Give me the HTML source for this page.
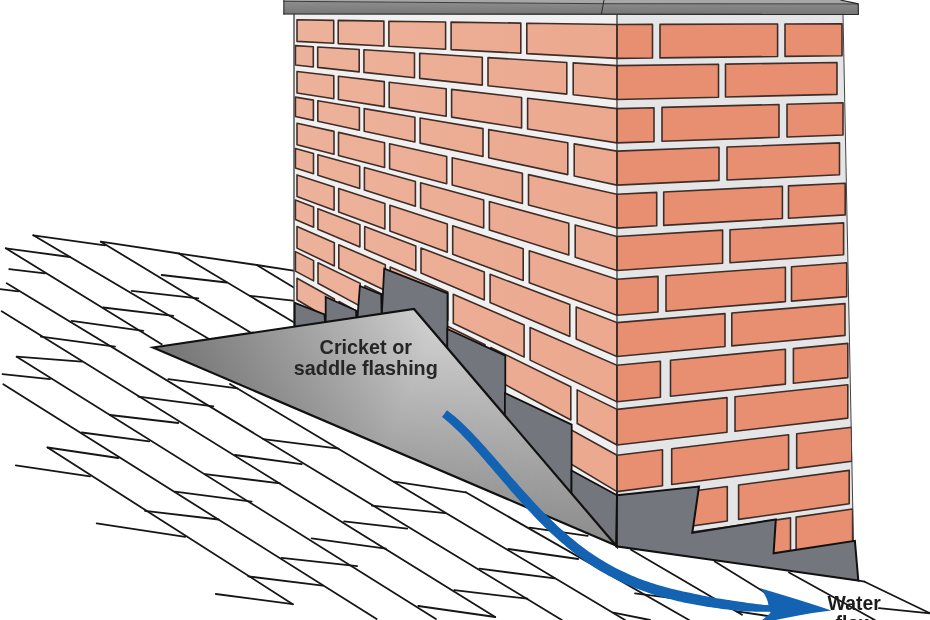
<!DOCTYPE html>
<html><head><meta charset="utf-8"><style>
html,body{margin:0;padding:0;background:#fff;width:930px;height:620px;overflow:hidden;font-family:"Liberation Sans",sans-serif}
svg{display:block}
text{-webkit-font-smoothing:antialiased}
</style></head><body>
<svg width="930" height="620" viewBox="0 0 930 620">
<defs>
<linearGradient id="crk" gradientUnits="userSpaceOnUse" x1="359.7" y1="435.9" x2="414" y2="309">
<stop offset="0" stop-color="#a4a4a4"/><stop offset="1" stop-color="#d2d2d2"/>
</linearGradient>
<linearGradient id="crk2" gradientUnits="userSpaceOnUse" x1="153" y1="347.5" x2="616" y2="545.5">
<stop offset="0" stop-color="#000" stop-opacity="0.3"/><stop offset="0.5" stop-color="#000" stop-opacity="0"/><stop offset="1" stop-color="#000" stop-opacity="0.15"/>
</linearGradient>
<linearGradient id="cap" x1="0" y1="0" x2="0" y2="1">
<stop offset="0" stop-color="#8e8e8f"/><stop offset="1" stop-color="#767677"/>
</linearGradient>
<linearGradient id="lb" gradientUnits="userSpaceOnUse" x1="294" y1="0" x2="617" y2="0">
<stop offset="0" stop-color="#edb29b"/><stop offset="1" stop-color="#eba88e"/>
</linearGradient>
<filter id="soft" x="0" y="0" width="100%" height="100%" color-interpolation-filters="sRGB"><feGaussianBlur stdDeviation="0.35"/></filter>
<clipPath id="lfclip"><polygon points="294,14 617,14 617,546 414,309 294,327"/></clipPath>
<clipPath id="rfclip"><polygon points="617,14 843,14 853.9,541.5 857.9,579.8 616.1,546.3"/></clipPath>
</defs>
<rect width="930" height="620" fill="#fff"/>
<g filter="url(#soft)">
<g id="shingles" stroke="#161616" stroke-width="1.8" fill="none" stroke-linecap="round">
<line x1="33.3" y1="235.3" x2="209" y2="339"/>
<line x1="100.8" y1="241.7" x2="253" y2="334"/>
<line x1="179.2" y1="253.7" x2="295" y2="323"/>
<line x1="256.7" y1="265" x2="295" y2="288.3"/>
<line x1="5.8" y1="248.3" x2="161.7" y2="344.2"/>
<line x1="6.7" y1="283.3" x2="561.8" y2="620"/>
<line x1="1.7" y1="311.3" x2="495.2" y2="617"/>
<line x1="3.3" y1="384.2" x2="376.6" y2="619"/>
<line x1="16.7" y1="356.7" x2="435.9" y2="619"/>
<line x1="47.5" y1="447.5" x2="292.8" y2="604.2"/>
<line x1="230" y1="384" x2="625" y2="620"/>
<line x1="465.8" y1="492.3" x2="689" y2="620"/>
<line x1="631" y1="549.7" x2="742" y2="614.7"/>
<line x1="714.8" y1="561.5" x2="790" y2="608"/>
<line x1="789" y1="572.5" x2="874.8" y2="620"/>
<line x1="864.6" y1="581.7" x2="930" y2="613.3"/>
<line x1="33.3" y1="235.3" x2="105" y2="245.3"/>
<line x1="100.8" y1="241.7" x2="179.2" y2="253.5"/>
<line x1="179.2" y1="253.7" x2="256.7" y2="265"/>
<line x1="256.7" y1="265" x2="295" y2="270.8"/>
<line x1="5.8" y1="248.3" x2="70" y2="257"/>
<line x1="9.2" y1="269.2" x2="45" y2="273.3"/>
<line x1="0" y1="289.2" x2="18.3" y2="291.3"/>
<line x1="131.7" y1="290.8" x2="198.3" y2="298.3"/>
<line x1="103.3" y1="307.5" x2="173.3" y2="315.8"/>
<line x1="71.7" y1="320.8" x2="143.3" y2="330.8"/>
<line x1="161.7" y1="275" x2="226.7" y2="282.5"/>
<line x1="250" y1="295.8" x2="295" y2="300.8"/>
<line x1="40.8" y1="336.7" x2="115" y2="346.7"/>
<line x1="16.7" y1="356.7" x2="81.7" y2="361.7"/>
<line x1="2.5" y1="374.2" x2="50" y2="379.2"/>
<line x1="138.3" y1="396.7" x2="213.3" y2="406.3"/>
<line x1="110" y1="415" x2="178.3" y2="423"/>
<line x1="168.3" y1="379.2" x2="237.5" y2="388.3"/>
<line x1="81.7" y1="432.5" x2="149.2" y2="441.3"/>
<line x1="47.5" y1="447.5" x2="118.3" y2="458"/>
<line x1="15.8" y1="465.3" x2="90" y2="476.3"/>
<line x1="145" y1="510.8" x2="218.6" y2="519.5"/>
<line x1="263.3" y1="439.2" x2="338.6" y2="448.6"/>
<line x1="235" y1="455" x2="301.7" y2="464.2"/>
<line x1="205" y1="474.2" x2="280" y2="483.3"/>
<line x1="175" y1="491.7" x2="251.7" y2="501.7"/>
<line x1="96.7" y1="523.3" x2="185.2" y2="536.9"/>
<line x1="215.8" y1="594" x2="292.8" y2="604.2"/>
<line x1="248.3" y1="576.4" x2="322.8" y2="585.6"/>
<line x1="281.6" y1="557.8" x2="357.1" y2="566.2"/>
<line x1="394.2" y1="481.6" x2="465.8" y2="492.3"/>
<line x1="371.9" y1="505.7" x2="445.2" y2="513.1"/>
<line x1="344.1" y1="521.3" x2="407.2" y2="528.7"/>
<line x1="311.7" y1="538.4" x2="385.8" y2="548.6"/>
<line x1="418.3" y1="606" x2="495.2" y2="617"/>
<line x1="454.3" y1="590.1" x2="527.4" y2="598.7"/>
<line x1="529.7" y1="527.7" x2="587.7" y2="535.8"/>
<line x1="508.4" y1="549" x2="578.1" y2="559"/>
<line x1="479.4" y1="568.7" x2="554.8" y2="578.4"/>
<line x1="613.4" y1="612.7" x2="650" y2="620"/>
<line x1="635" y1="593.3" x2="680.4" y2="599.1"/>
<line x1="736.8" y1="611.3" x2="771" y2="616.5"/>
<line x1="858.5" y1="580.6" x2="864.6" y2="581.7"/>
<line x1="878.9" y1="608.2" x2="930" y2="613.3"/>
</g>
<polygon points="294.0,14.0 617.0,14.0 617.0,495.0 294.0,330.0" fill="#f0f0f0"/>
<g clip-path="url(#lfclip)">
<polygon points="297.0,19.8 333.7,20.4 333.7,43.3 297.0,41.4" fill="url(#lb)" stroke="#402d27" stroke-width="1.6" stroke-linejoin="round"/>
<polygon points="338.2,20.4 383.9,21.1 383.9,46.0 338.2,43.6" fill="url(#lb)" stroke="#402d27" stroke-width="1.6" stroke-linejoin="round"/>
<polygon points="388.9,21.2 445.6,22.0 445.6,49.3 388.9,46.3" fill="url(#lb)" stroke="#402d27" stroke-width="1.6" stroke-linejoin="round"/>
<polygon points="451.1,22.1 520.8,23.1 520.8,53.3 451.1,49.6" fill="url(#lb)" stroke="#402d27" stroke-width="1.6" stroke-linejoin="round"/>
<polygon points="526.8,23.2 617.0,24.5 617.0,58.4 526.8,53.6" fill="url(#lb)" stroke="#402d27" stroke-width="1.6" stroke-linejoin="round"/>
<polygon points="295.4,45.6 313.3,46.7 313.3,67.0 295.4,65.0" fill="url(#lb)" stroke="#402d27" stroke-width="1.6" stroke-linejoin="round"/>
<polygon points="317.7,47.0 359.2,49.5 359.2,71.9 317.7,67.4" fill="url(#lb)" stroke="#402d27" stroke-width="1.6" stroke-linejoin="round"/>
<polygon points="363.9,49.8 414.5,53.0 414.5,77.8 363.9,72.4" fill="url(#lb)" stroke="#402d27" stroke-width="1.6" stroke-linejoin="round"/>
<polygon points="419.7,53.3 482.3,57.2 482.3,85.1 419.7,78.4" fill="url(#lb)" stroke="#402d27" stroke-width="1.6" stroke-linejoin="round"/>
<polygon points="488.0,57.6 566.8,62.5 566.8,94.1 488.0,85.7" fill="url(#lb)" stroke="#402d27" stroke-width="1.6" stroke-linejoin="round"/>
<polygon points="573.2,62.9 617.0,65.6 617.0,99.5 573.2,94.8" fill="url(#lb)" stroke="#402d27" stroke-width="1.6" stroke-linejoin="round"/>
<polygon points="297.0,71.5 333.8,75.8 333.8,98.8 297.0,93.0" fill="url(#lb)" stroke="#402d27" stroke-width="1.6" stroke-linejoin="round"/>
<polygon points="338.4,76.3 384.3,81.6 384.3,106.6 338.4,99.5" fill="url(#lb)" stroke="#402d27" stroke-width="1.6" stroke-linejoin="round"/>
<polygon points="389.2,82.2 446.2,88.8 446.2,116.3 389.2,107.4" fill="url(#lb)" stroke="#402d27" stroke-width="1.6" stroke-linejoin="round"/>
<polygon points="451.6,89.4 521.6,97.5 521.6,128.0 451.6,117.1" fill="url(#lb)" stroke="#402d27" stroke-width="1.6" stroke-linejoin="round"/>
<polygon points="527.6,98.2 617.0,108.6 617.0,142.9 527.6,129.0" fill="url(#lb)" stroke="#402d27" stroke-width="1.6" stroke-linejoin="round"/>
<polygon points="295.4,97.1 313.4,100.1 313.4,120.4 295.4,116.5" fill="url(#lb)" stroke="#402d27" stroke-width="1.6" stroke-linejoin="round"/>
<polygon points="317.8,100.8 359.4,107.8 359.4,130.2 317.8,121.3" fill="url(#lb)" stroke="#402d27" stroke-width="1.6" stroke-linejoin="round"/>
<polygon points="364.2,108.6 414.9,117.2 414.9,142.0 364.2,131.2" fill="url(#lb)" stroke="#402d27" stroke-width="1.6" stroke-linejoin="round"/>
<polygon points="420.1,118.0 483.0,128.6 483.0,156.5 420.1,143.1" fill="url(#lb)" stroke="#402d27" stroke-width="1.6" stroke-linejoin="round"/>
<polygon points="488.7,129.6 567.8,142.8 567.8,174.6 488.7,157.8" fill="url(#lb)" stroke="#402d27" stroke-width="1.6" stroke-linejoin="round"/>
<polygon points="574.2,143.9 617.0,151.1 617.0,185.1 574.2,176.0" fill="url(#lb)" stroke="#402d27" stroke-width="1.6" stroke-linejoin="round"/>
<polygon points="297.0,123.2 334.0,131.4 334.0,154.3 297.0,144.7" fill="url(#lb)" stroke="#402d27" stroke-width="1.6" stroke-linejoin="round"/>
<polygon points="338.5,132.4 384.6,142.7 384.6,167.5 338.5,155.5" fill="url(#lb)" stroke="#402d27" stroke-width="1.6" stroke-linejoin="round"/>
<polygon points="389.6,143.8 446.7,156.5 446.7,183.7 389.6,168.8" fill="url(#lb)" stroke="#402d27" stroke-width="1.6" stroke-linejoin="round"/>
<polygon points="452.2,157.7 522.4,173.3 522.4,203.4 452.2,185.1" fill="url(#lb)" stroke="#402d27" stroke-width="1.6" stroke-linejoin="round"/>
<polygon points="528.5,174.6 617.0,194.3 617.0,228.1 528.5,205.0" fill="url(#lb)" stroke="#402d27" stroke-width="1.6" stroke-linejoin="round"/>
<polygon points="295.4,148.6 313.5,153.5 313.5,173.8 295.4,168.0" fill="url(#lb)" stroke="#402d27" stroke-width="1.6" stroke-linejoin="round"/>
<polygon points="317.9,154.7 359.7,166.2 359.7,188.5 317.9,175.2" fill="url(#lb)" stroke="#402d27" stroke-width="1.6" stroke-linejoin="round"/>
<polygon points="364.4,167.5 415.4,181.4 415.4,206.3 364.4,190.0" fill="url(#lb)" stroke="#402d27" stroke-width="1.6" stroke-linejoin="round"/>
<polygon points="420.6,182.8 483.7,200.0 483.7,228.0 420.6,207.9" fill="url(#lb)" stroke="#402d27" stroke-width="1.6" stroke-linejoin="round"/>
<polygon points="489.4,201.6 568.8,223.3 568.8,255.1 489.4,229.9" fill="url(#lb)" stroke="#402d27" stroke-width="1.6" stroke-linejoin="round"/>
<polygon points="575.2,225.1 617.0,236.5 617.0,270.5 575.2,257.2" fill="url(#lb)" stroke="#402d27" stroke-width="1.6" stroke-linejoin="round"/>
<polygon points="297.0,174.9 334.1,187.0 334.1,210.2 297.0,196.4" fill="url(#lb)" stroke="#402d27" stroke-width="1.6" stroke-linejoin="round"/>
<polygon points="338.7,188.5 384.9,203.6 384.9,229.1 338.7,211.9" fill="url(#lb)" stroke="#402d27" stroke-width="1.6" stroke-linejoin="round"/>
<polygon points="389.9,205.2 447.3,223.9 447.3,252.2 389.9,230.9" fill="url(#lb)" stroke="#402d27" stroke-width="1.6" stroke-linejoin="round"/>
<polygon points="452.7,225.7 523.2,248.7 523.2,280.5 452.7,254.3" fill="url(#lb)" stroke="#402d27" stroke-width="1.6" stroke-linejoin="round"/>
<polygon points="529.3,250.7 617.0,279.3 617.0,315.3 529.3,282.7" fill="url(#lb)" stroke="#402d27" stroke-width="1.6" stroke-linejoin="round"/>
<polygon points="295.4,200.1 313.6,207.0 313.6,227.3 295.4,219.6" fill="url(#lb)" stroke="#402d27" stroke-width="1.6" stroke-linejoin="round"/>
<polygon points="317.9,208.7 359.9,224.7 359.9,247.0 317.9,229.2" fill="url(#lb)" stroke="#402d27" stroke-width="1.6" stroke-linejoin="round"/>
<polygon points="364.7,226.5 415.8,246.0 415.8,270.8 364.7,249.1" fill="url(#lb)" stroke="#402d27" stroke-width="1.6" stroke-linejoin="round"/>
<polygon points="421.0,248.0 484.3,272.1 484.3,300.0 421.0,273.1" fill="url(#lb)" stroke="#402d27" stroke-width="1.6" stroke-linejoin="round"/>
<polygon points="490.1,274.3 569.8,304.6 569.8,336.4 490.1,302.5" fill="url(#lb)" stroke="#402d27" stroke-width="1.6" stroke-linejoin="round"/>
<polygon points="576.2,307.1 617.0,322.6 617.0,356.5 576.2,339.1" fill="url(#lb)" stroke="#402d27" stroke-width="1.6" stroke-linejoin="round"/>
<polygon points="297.0,226.5 334.3,242.7 334.3,266.0 297.0,248.1" fill="url(#lb)" stroke="#402d27" stroke-width="1.6" stroke-linejoin="round"/>
<polygon points="338.8,244.7 385.3,264.8 385.3,290.5 338.8,268.2" fill="url(#lb)" stroke="#402d27" stroke-width="1.6" stroke-linejoin="round"/>
<polygon points="390.2,267.0 447.8,291.9 447.8,320.5 390.2,292.9" fill="url(#lb)" stroke="#402d27" stroke-width="1.6" stroke-linejoin="round"/>
<polygon points="453.3,294.3 524.1,325.0 524.1,357.1 453.3,323.2" fill="url(#lb)" stroke="#402d27" stroke-width="1.6" stroke-linejoin="round"/>
<polygon points="530.1,327.6 617.0,365.3 617.0,401.8 530.1,360.1" fill="url(#lb)" stroke="#402d27" stroke-width="1.6" stroke-linejoin="round"/>
<polygon points="295.4,251.6 313.6,260.6 313.6,280.9 295.4,271.1" fill="url(#lb)" stroke="#402d27" stroke-width="1.6" stroke-linejoin="round"/>
<polygon points="318.0,262.7 360.2,283.4 360.2,306.1 318.0,283.3" fill="url(#lb)" stroke="#402d27" stroke-width="1.6" stroke-linejoin="round"/>
<polygon points="364.9,285.7 416.3,310.9 416.3,336.4 364.9,308.7" fill="url(#lb)" stroke="#402d27" stroke-width="1.6" stroke-linejoin="round"/>
<polygon points="421.5,313.5 485.0,344.7 485.0,373.6 421.5,339.3" fill="url(#lb)" stroke="#402d27" stroke-width="1.6" stroke-linejoin="round"/>
<polygon points="490.8,347.5 570.8,386.7 570.8,420.0 490.8,376.8" fill="url(#lb)" stroke="#402d27" stroke-width="1.6" stroke-linejoin="round"/>
<polygon points="577.2,389.9 617.0,409.4 617.0,445.0 577.2,423.5" fill="url(#lb)" stroke="#402d27" stroke-width="1.6" stroke-linejoin="round"/>
<polygon points="297.0,278.3 334.4,299.0 334.4,322.2 297.0,299.8" fill="url(#lb)" stroke="#402d27" stroke-width="1.6" stroke-linejoin="round"/>
<polygon points="339.0,301.5 385.6,327.3 385.6,352.9 339.0,325.0" fill="url(#lb)" stroke="#402d27" stroke-width="1.6" stroke-linejoin="round"/>
<polygon points="390.6,330.0 448.4,362.0 448.4,390.6 390.6,355.9" fill="url(#lb)" stroke="#402d27" stroke-width="1.6" stroke-linejoin="round"/>
<polygon points="453.9,365.0 524.9,404.3 524.9,436.4 453.9,393.8" fill="url(#lb)" stroke="#402d27" stroke-width="1.6" stroke-linejoin="round"/>
<polygon points="531.0,407.6 617.0,455.2 617.0,491.6 531.0,440.0" fill="url(#lb)" stroke="#402d27" stroke-width="1.6" stroke-linejoin="round"/>
<polygon points="295.4,303.1 313.7,314.4 313.7,334.8 295.4,322.6" fill="url(#lb)" stroke="#402d27" stroke-width="1.6" stroke-linejoin="round"/>
<polygon points="318.1,317.1 360.4,343.1 360.4,365.9 318.1,337.7" fill="url(#lb)" stroke="#402d27" stroke-width="1.6" stroke-linejoin="round"/>
<polygon points="365.2,346.1 416.7,377.8 416.7,403.3 365.2,369.0" fill="url(#lb)" stroke="#402d27" stroke-width="1.6" stroke-linejoin="round"/>
<polygon points="421.9,381.0 485.8,420.3 485.8,449.3 421.9,406.8" fill="url(#lb)" stroke="#402d27" stroke-width="1.6" stroke-linejoin="round"/>
<polygon points="491.5,423.8 571.8,473.2 571.8,506.5 491.5,453.1" fill="url(#lb)" stroke="#402d27" stroke-width="1.6" stroke-linejoin="round"/>
<polygon points="578.3,477.2 617.0,501.0 617.0,536.6 578.3,510.8" fill="url(#lb)" stroke="#402d27" stroke-width="1.6" stroke-linejoin="round"/>
</g>
<line x1="294.0" y1="14" x2="294.0" y2="330" stroke="#4a4a4a" stroke-width="1.4"/>
<polygon points="617.0,14.0 843.0,14.0 854.0,545.0 858.0,580.0 617.0,546.0" fill="#e4e5e7"/>
<g clip-path="url(#rfclip)">
<polygon points="617.0,24.5 652.5,24.4 652.5,58.0 617.0,58.4" fill="#e88f71" stroke="#402d27" stroke-width="1.6" stroke-linejoin="round"/>
<polygon points="660.0,24.4 777.6,24.0 777.6,56.5 660.0,57.9" fill="#e88f71" stroke="#402d27" stroke-width="1.6" stroke-linejoin="round"/>
<polygon points="785.0,24.0 842.0,23.9 842.0,55.7 785.0,56.4" fill="#e88f71" stroke="#402d27" stroke-width="1.6" stroke-linejoin="round"/>
<polygon points="617.0,65.6 718.5,64.2 718.5,97.2 617.0,99.5" fill="#e88f71" stroke="#402d27" stroke-width="1.6" stroke-linejoin="round"/>
<polygon points="725.5,64.1 837.0,62.5 837.0,94.4 725.5,97.0" fill="#e88f71" stroke="#402d27" stroke-width="1.6" stroke-linejoin="round"/>
<polygon points="617.0,108.6 654.0,107.7 654.0,141.6 617.0,142.9" fill="#e88f71" stroke="#402d27" stroke-width="1.6" stroke-linejoin="round"/>
<polygon points="662.0,107.4 779.0,104.5 779.0,137.3 662.0,141.3" fill="#e88f71" stroke="#402d27" stroke-width="1.6" stroke-linejoin="round"/>
<polygon points="787.0,104.3 843.0,102.8 843.0,135.0 787.0,137.0" fill="#e88f71" stroke="#402d27" stroke-width="1.6" stroke-linejoin="round"/>
<polygon points="617.0,151.1 719.0,147.3 719.0,180.4 617.0,185.1" fill="#e88f71" stroke="#402d27" stroke-width="1.6" stroke-linejoin="round"/>
<polygon points="727.0,147.0 839.5,142.9 839.5,174.8 727.0,180.0" fill="#e88f71" stroke="#402d27" stroke-width="1.6" stroke-linejoin="round"/>
<polygon points="617.0,194.3 656.7,192.4 656.7,225.8 617.0,228.1" fill="#e88f71" stroke="#402d27" stroke-width="1.6" stroke-linejoin="round"/>
<polygon points="663.7,192.0 782.4,186.2 782.4,218.5 663.7,225.4" fill="#e88f71" stroke="#402d27" stroke-width="1.6" stroke-linejoin="round"/>
<polygon points="788.5,185.9 845.2,183.2 845.2,214.9 788.5,218.2" fill="#e88f71" stroke="#402d27" stroke-width="1.6" stroke-linejoin="round"/>
<polygon points="617.0,236.5 722.6,230.1 722.6,263.2 617.0,270.5" fill="#e88f71" stroke="#402d27" stroke-width="1.6" stroke-linejoin="round"/>
<polygon points="730.0,229.7 843.6,222.9 843.6,254.8 730.0,262.7" fill="#e88f71" stroke="#402d27" stroke-width="1.6" stroke-linejoin="round"/>
<polygon points="617.0,279.3 658.0,276.4 658.0,312.0 617.0,315.3" fill="#e88f71" stroke="#402d27" stroke-width="1.6" stroke-linejoin="round"/>
<polygon points="666.0,275.8 785.4,267.2 785.4,301.6 666.0,311.3" fill="#e88f71" stroke="#402d27" stroke-width="1.6" stroke-linejoin="round"/>
<polygon points="791.5,266.8 846.7,262.8 846.7,296.6 791.5,301.1" fill="#e88f71" stroke="#402d27" stroke-width="1.6" stroke-linejoin="round"/>
<polygon points="617.0,322.6 725.0,313.6 725.0,346.5 617.0,356.5" fill="#e88f71" stroke="#402d27" stroke-width="1.6" stroke-linejoin="round"/>
<polygon points="731.8,313.0 845.0,303.6 845.0,335.4 731.8,345.9" fill="#e88f71" stroke="#402d27" stroke-width="1.6" stroke-linejoin="round"/>
<polygon points="617.0,365.3 660.4,361.2 660.4,397.3 617.0,401.8" fill="#e88f71" stroke="#402d27" stroke-width="1.6" stroke-linejoin="round"/>
<polygon points="670.5,360.2 785.4,349.3 785.4,384.1 670.5,396.2" fill="#e88f71" stroke="#402d27" stroke-width="1.6" stroke-linejoin="round"/>
<polygon points="793.4,348.6 847.8,343.4 847.8,377.6 793.4,383.3" fill="#e88f71" stroke="#402d27" stroke-width="1.6" stroke-linejoin="round"/>
<polygon points="617.0,409.4 727.0,397.6 727.0,432.2 617.0,445.0" fill="#e88f71" stroke="#402d27" stroke-width="1.6" stroke-linejoin="round"/>
<polygon points="735.0,396.8 847.8,384.7 847.8,418.1 735.0,431.3" fill="#e88f71" stroke="#402d27" stroke-width="1.6" stroke-linejoin="round"/>
<polygon points="617.0,455.2 662.5,449.8 662.5,485.7 617.0,491.6" fill="#e88f71" stroke="#402d27" stroke-width="1.6" stroke-linejoin="round"/>
<polygon points="671.7,448.7 788.6,434.7 788.6,469.4 671.7,484.5" fill="#e88f71" stroke="#402d27" stroke-width="1.6" stroke-linejoin="round"/>
<polygon points="796.7,433.8 851.9,427.2 851.9,461.3 796.7,468.4" fill="#e88f71" stroke="#402d27" stroke-width="1.6" stroke-linejoin="round"/>
<polygon points="617.0,501.0 727.3,486.5 727.3,521.0 617.0,536.6" fill="#e88f71" stroke="#402d27" stroke-width="1.6" stroke-linejoin="round"/>
<polygon points="738.6,485.0 849.2,470.4 849.2,503.8 738.6,519.4" fill="#e88f71" stroke="#402d27" stroke-width="1.6" stroke-linejoin="round"/>
<polygon points="617.0,542.7 664.0,536.0 664.0,570.8 617.0,578.0" fill="#e88f71" stroke="#402d27" stroke-width="1.6" stroke-linejoin="round"/>
<polygon points="673.0,534.7 790.5,517.9 790.5,551.6 673.0,569.5" fill="#e88f71" stroke="#402d27" stroke-width="1.6" stroke-linejoin="round"/>
<polygon points="796.1,517.1 852.6,509.0 852.6,542.1 796.1,550.7" fill="#e88f71" stroke="#402d27" stroke-width="1.6" stroke-linejoin="round"/>
</g>
<line x1="843" y1="14" x2="853.5" y2="545" stroke="#444" stroke-width="1"/>
<line x1="617.0" y1="14" x2="617.0" y2="546" stroke="#2a2a2a" stroke-width="1.2"/>
<polygon points="283.4,1.2 603,3.6 858.4,3.8 858.4,14.8 283.4,14.3" fill="url(#cap)"/>
<polygon points="283.4,0 840.4,0 858.2,3.8 603,3.8 283.4,1.2" fill="#a7a7a8"/>
<polyline points="283.4,1.3 603,3.7 858.2,3.9" fill="none" stroke="#3c3c3c" stroke-width="1"/>
<polyline points="840.4,0 858.2,3.8 858.4,14.8" fill="none" stroke="#2a2a2a" stroke-width="1.2"/>
<line x1="283.9" y1="0" x2="283.9" y2="14.5" stroke="#2a2a2a" stroke-width="1"/>
<line x1="604" y1="0" x2="601.4" y2="14" stroke="#2a2a2a" stroke-width="1"/>
<line x1="283.4" y1="14" x2="858.4" y2="14.4" stroke="#2a2a2a" stroke-width="1.2"/>
<polygon points="294.7,302.8 324.4,314.4 325.7,330.0 294.7,335.0" fill="#73777d" stroke="#111" stroke-width="1.8" stroke-linejoin="miter"/>
<polygon points="325.7,297.0 356.0,310.5 357.0,330.0 325.7,330.0" fill="#73777d" stroke="#111" stroke-width="1.8" stroke-linejoin="miter"/>
<polygon points="359.9,286.0 381.2,294.4 382.0,330.0 356.5,330.0" fill="#73777d" stroke="#111" stroke-width="1.8" stroke-linejoin="miter"/>
<polygon points="384.2,268.7 447.5,293.3 447.5,351.2 381.0,330.0" fill="#73777d" stroke="#111" stroke-width="1.8" stroke-linejoin="miter"/>
<polygon points="447.3,329.0 505.3,355.6 505.3,418.9 447.3,351.0" fill="#73777d" stroke="#111" stroke-width="1.8" stroke-linejoin="miter"/>
<polygon points="504.9,393.0 571.7,424.6 571.5,495.8 504.9,418.4" fill="#73777d" stroke="#111" stroke-width="1.8" stroke-linejoin="miter"/>
<polygon points="571.5,470.5 617.0,495.3 617.0,547.0 571.5,495.8" fill="#73777d" stroke="#111" stroke-width="1.8" stroke-linejoin="miter"/>
<polygon points="617.0,495.3 699.0,486.6 692.3,532.9 775.8,519.4 773.6,553.2 854.9,540.8 858.3,580.5 616.1,546.3" fill="#73777d" stroke="#111" stroke-width="2" stroke-linejoin="miter"/>
<line x1="617.0" y1="492" x2="617.0" y2="546" stroke="#111" stroke-width="1.6"/>
<polygon points="153.0,347.5 414.0,309.0 616.0,545.5" fill="url(#crk)"/>
<polygon points="153.0,347.5 414.0,309.0 616.0,545.5" fill="url(#crk2)" stroke="#111" stroke-width="2.2" stroke-linejoin="miter"/>
<polygon points="442.0,417.1 444.6,419.1 447.2,421.2 449.9,423.5 452.5,425.9 455.2,428.4 457.9,431.0 460.5,433.6 463.2,436.4 465.9,439.2 468.6,442.0 471.2,445.0 473.9,448.0 476.6,451.0 479.3,454.1 482.0,457.2 484.7,460.3 487.4,463.4 490.1,466.6 492.9,469.8 495.6,473.0 498.3,476.1 501.0,479.3 503.7,482.5 506.5,485.6 509.2,488.8 511.9,491.9 514.7,495.0 517.4,498.1 520.1,501.2 522.9,504.2 525.6,507.2 528.4,510.2 531.1,513.1 533.8,516.0 536.6,518.9 539.3,521.7 542.1,524.4 544.8,527.2 547.6,529.8 550.3,532.5 553.1,535.0 555.9,537.6 558.6,540.0 561.4,542.5 564.2,544.8 566.9,547.2 569.7,549.4 572.5,551.7 575.2,553.8 578.0,555.9 580.8,558.0 583.5,560.0 586.3,561.9 589.1,563.8 591.9,565.7 594.7,567.5 597.4,569.2 600.2,570.9 603.0,572.5 605.8,574.1 608.6,575.7 611.4,577.1 614.1,578.6 616.9,580.0 619.7,581.3 622.5,582.6 625.3,583.9 628.1,585.1 630.9,586.3 633.6,587.4 636.4,588.5 639.2,589.6 642.0,590.6 644.8,591.6 647.5,592.6 650.3,593.5 653.1,594.4 655.9,595.2 658.6,596.1 661.4,596.9 664.2,597.6 667.0,598.4 669.7,599.1 672.5,599.8 675.3,600.5 678.0,601.2 680.8,601.8 683.5,602.4 686.3,603.0 689.1,603.6 691.8,604.1 694.6,604.6 697.3,605.1 700.1,605.6 702.9,606.0 705.6,606.5 708.4,606.9 711.1,607.3 713.9,607.7 716.7,608.1 719.4,608.5 722.2,608.9 724.9,609.2 727.7,609.6 730.4,609.9 733.2,610.2 736.0,610.5 738.7,610.8 741.5,611.0 744.3,611.2 747.0,611.4 749.8,611.5 752.6,611.6 755.3,611.7 758.1,611.8 760.9,611.8 763.7,611.8 766.4,611.8 769.2,611.8 772.0,611.7 772.0,605.5 769.3,605.3 766.7,605.1 764.0,604.9 761.3,604.6 758.6,604.3 755.9,604.0 753.2,603.6 750.5,603.3 747.9,602.9 745.2,602.5 742.5,602.1 739.8,601.7 737.1,601.3 734.4,600.9 731.7,600.5 729.0,600.1 726.3,599.7 723.6,599.3 720.9,598.8 718.2,598.4 715.5,597.9 712.8,597.4 710.1,596.9 707.4,596.4 704.7,595.9 702.0,595.4 699.3,594.8 696.6,594.3 693.9,593.7 691.2,593.1 688.5,592.6 685.8,592.0 683.1,591.4 680.4,590.8 677.7,590.2 675.0,589.5 672.3,588.9 669.6,588.2 666.9,587.5 664.3,586.8 661.6,586.0 658.9,585.2 656.2,584.4 653.5,583.6 650.8,582.7 648.2,581.8 645.5,580.9 642.8,579.9 640.1,578.9 637.4,577.9 634.8,576.8 632.1,575.7 629.4,574.5 626.7,573.3 624.1,572.1 621.4,570.8 618.7,569.5 616.1,568.2 613.4,566.8 610.7,565.3 608.0,563.8 605.4,562.2 602.7,560.6 600.0,559.0 597.3,557.3 594.6,555.5 592.0,553.7 589.3,551.9 586.6,550.0 583.9,548.0 581.2,546.0 578.5,543.9 575.9,541.8 573.2,539.6 570.5,537.4 567.8,535.1 565.1,532.7 562.4,530.3 559.7,527.9 557.0,525.4 554.3,522.8 551.6,520.2 548.9,517.6 546.2,514.9 543.5,512.2 540.7,509.4 538.0,506.5 535.3,503.7 532.6,500.8 529.9,497.8 527.2,494.8 524.4,491.8 521.7,488.8 519.0,485.7 516.3,482.6 513.5,479.5 510.8,476.4 508.1,473.2 505.3,470.1 502.6,466.9 499.9,463.7 497.1,460.6 494.4,457.4 491.6,454.3 488.8,451.2 486.1,448.1 483.3,445.0 480.6,442.0 477.8,439.0 475.0,436.0 472.2,433.1 469.5,430.2 466.7,427.5 463.9,424.7 461.1,422.1 458.3,419.5 455.5,417.1 452.7,414.7 449.8,412.4 447.0,410.3" fill="#1463b3"/>
<path d="M831.4,610.4 Q804,601 760,588.1 Q768,598 768.5,606 L770.5,613 Q766,617 757.4,624 Q800,614 831.4,610.4 Z" fill="#1463b3"/>
<g font-family="Liberation Sans, sans-serif" font-weight="bold" fill="#262626" text-anchor="middle" font-size="19.8" style="will-change:transform">
<text x="365.8" y="354.1">Cricket or</text>
<text x="365.8" y="375.1">saddle flashing</text>
</g>
<g font-family="Liberation Sans, sans-serif" font-weight="bold" fill="#1c1c1c" font-size="19.4" style="will-change:transform">
<text x="827.6" y="609.8">Water</text>
<text x="835.5" y="630">flow</text>
</g>
</g>
</svg>
</body></html>
